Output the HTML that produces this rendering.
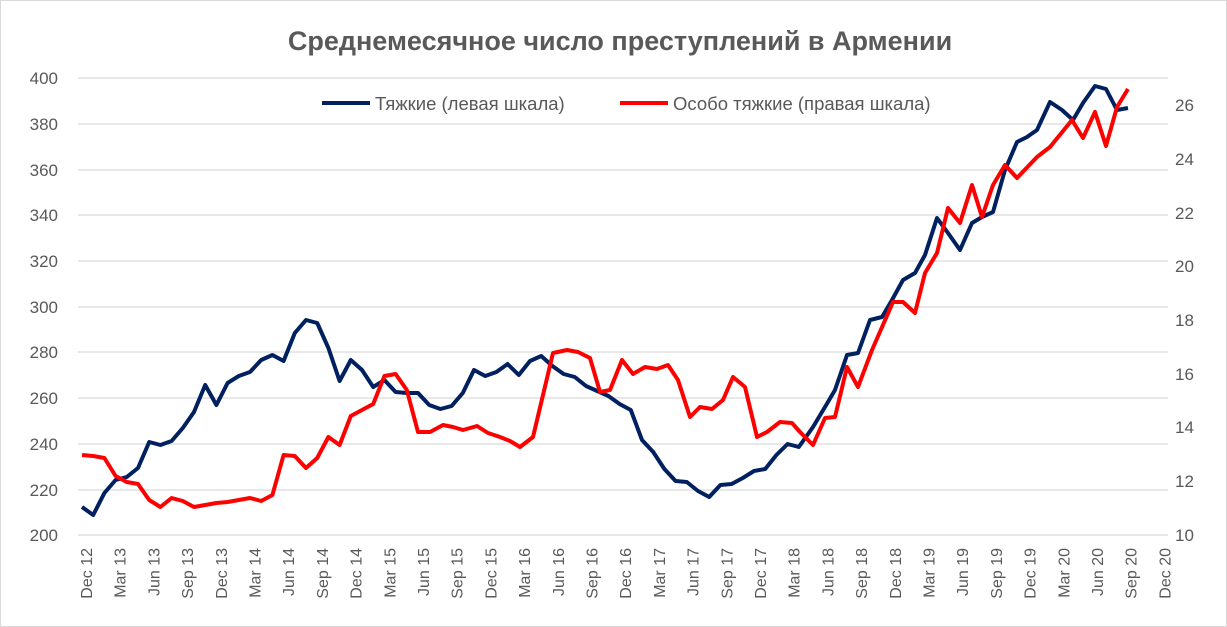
<!DOCTYPE html>
<html><head><meta charset="utf-8"><style>
body{margin:0;background:#fff}
svg{display:block;font-family:"Liberation Sans","DejaVu Sans",sans-serif}
</style></head><body>
<svg width="1227" height="627" viewBox="0 0 1227 627">
<rect x="0.5" y="0.5" width="1226" height="626" fill="#fff" stroke="#d9d9d9"/>
<text x="620" y="50" text-anchor="middle" font-size="27" font-weight="bold" fill="#595959">Среднемесячное число преступлений в Армении</text>
<g stroke="#d9d9d9" stroke-width="1.3">
<line x1="78" x2="1168" y1="78" y2="78"/><line x1="78" x2="1168" y1="124" y2="124"/><line x1="78" x2="1168" y1="170" y2="170"/><line x1="78" x2="1168" y1="215" y2="215"/><line x1="78" x2="1168" y1="261" y2="261"/><line x1="78" x2="1168" y1="307" y2="307"/><line x1="78" x2="1168" y1="352" y2="352"/><line x1="78" x2="1168" y1="398" y2="398"/><line x1="78" x2="1168" y1="444" y2="444"/><line x1="78" x2="1168" y1="490" y2="490"/><line x1="78" x2="1168" y1="535" y2="535"/>
</g>
<g font-size="17" fill="#595959" text-anchor="end">
<text x="58" y="84">400</text><text x="58" y="130">380</text><text x="58" y="176">360</text><text x="58" y="221">340</text><text x="58" y="267">320</text><text x="58" y="313">300</text><text x="58" y="358">280</text><text x="58" y="404">260</text><text x="58" y="450">240</text><text x="58" y="496">220</text><text x="58" y="541">200</text>
</g>
<g font-size="17" fill="#595959" text-anchor="start">
<text x="1175" y="111">26</text><text x="1175" y="165">24</text><text x="1175" y="219">22</text><text x="1175" y="272">20</text><text x="1175" y="326">18</text><text x="1175" y="380">16</text><text x="1175" y="433">14</text><text x="1175" y="487">12</text><text x="1175" y="541">10</text>
</g>
<g font-size="16" fill="#595959" text-anchor="end" id="xl"></g>
<line x1="322" x2="370" y1="103" y2="103" stroke="#002060" stroke-width="4"/>
<text x="375" y="110" font-size="18.5" fill="#595959">Тяжкие (левая шкала)</text>
<line x1="620" x2="668" y1="103" y2="103" stroke="#ff0000" stroke-width="4"/>
<text x="673" y="110" font-size="18.5" fill="#595959">Особо тяжкие (правая шкала)</text>
<polyline id="blue" fill="none" stroke="#002060" stroke-width="4" stroke-linejoin="round"/>
<polyline id="red" fill="none" stroke="#ff0000" stroke-width="4" stroke-linejoin="round"/>
</svg>
<script>
var NS="http://www.w3.org/2000/svg";
var labs=[];var m=["Dec","Mar","Jun","Sep"];var y=12;
for(var k=0;k<33;k++){var mm=m[k%4];if(k>0&&k%4==1)y++;labs.push(mm+" "+y);}
var g=document.getElementById("xl");
labs.forEach(function(t,k){var x=86+33.7*k;var e=document.createElementNS(NS,"text");e.setAttribute("transform","translate("+(x+6)+",548) rotate(-90)");e.textContent=t;g.appendChild(e);});
var b=[507,515,493,480,477,468,442,445,441,428,412,385,405,383,376,372,360,355,361,333,320,323,348,381,360,370,387,380,392,393,393,405,409,406,393,370,376,372,364,375,361,356,366,374,377,386,391,396,404,410,440,452,469,481,482,491,497,485,484,478,471,469,455,444,447];
var bp=b.map(function(v,i){return [82+11.2*i,v];});
bp=bp.concat([[813,427],[825,407],[835,390],[847,355],[858,353],[870,320],[882,317],[892,300],[903,280],[915,273],[925,255],[937,218],[948,233],[960,250],[972,223],[982,217],[993,212],[1005,170],[1017,142],[1027,137],[1037,130],[1050,102],[1062,110],[1073,120],[1083,103],[1095,86],[1106,89],[1117,110],[1128,108]]);
var r=[455,456,458,476,482,484,500,507,498,501,507,505,503,502,500,498,501,495,455,456,468,458,437,445,416,410,404,376,374,390,432];
var rp=r.map(function(v,i){return [82+11.2*i,v];});
rp=rp.concat([[430,432],[443,425],[453,427],[463,430],[477,426],[488,433],[500,437],[510,441],[520,447],[533,437],[553,353],[567,350],[578,352],[590,358],[600,392],[610,390],[622,360],[633,374],[645,367],[657,369],[668,365],[678,380],[690,417],[700,407],[712,409],[723,400],[733,377],[745,387],[757,437],[767,432],[780,422],[792,423],[800,432],[813,445],[825,418],[835,417],[847,367],[858,387],[872,350],[893,302],[903,302],[915,313],[925,273],[937,253],[948,208],[960,223],[972,185],[982,217],[993,185],[1005,165],[1017,178],[1037,157],[1050,147],[1072,120],[1083,138],[1095,112],[1106,146],[1117,107],[1128,89]]);
function s(p){return p.map(function(q){return q[0]+","+q[1]}).join(" ");}
document.getElementById("blue").setAttribute("points",s(bp));
document.getElementById("red").setAttribute("points",s(rp));
</script>
</body></html>
